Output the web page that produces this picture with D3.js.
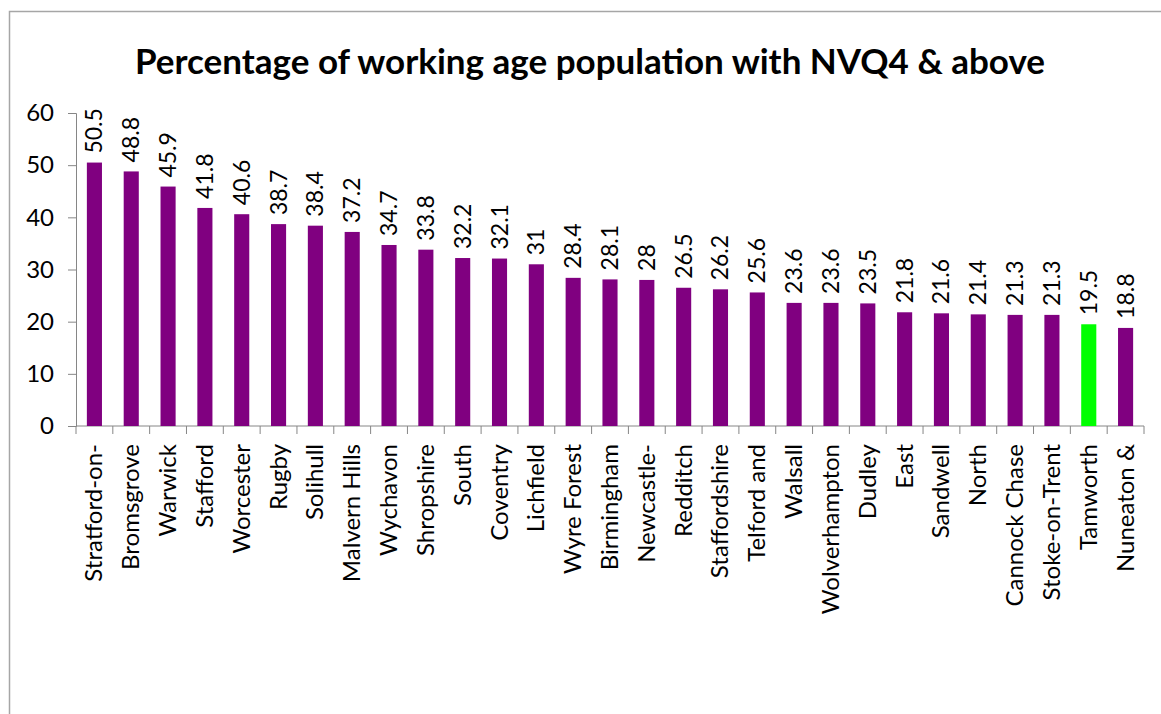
<!DOCTYPE html>
<html>
<head>
<meta charset="utf-8">
<script src="https://cdn.jsdelivr.net/npm/d3@7"></script>
<style>
  body { margin: 0; background: #fff; }
  text { font-family: Lato, "Open Sans", sans-serif; fill: #000; }
</style>
</head>
<body>
<div id="chart-container"></div>
<script>
var categories = ["Stratford-on-", "Bromsgrove", "Warwick", "Stafford", "Worcester", "Rugby",
    "Solihull", "Malvern Hills", "Wychavon", "Shropshire", "South", "Coventry", "Lichfield",
    "Wyre Forest", "Birmingham", "Newcastle-", "Redditch", "Staffordshire", "Telford and",
    "Walsall", "Wolverhampton", "Dudley", "East", "Sandwell", "North", "Cannock Chase",
    "Stoke-on-Trent", "Tamworth", "Nuneaton &"];
var values = [50.5, 48.8, 45.9, 41.8, 40.6, 38.7, 38.4, 37.2, 34.7, 33.8, 32.2, 32.1, 31,
    28.4, 28.1, 28, 26.5, 26.2, 25.6, 23.6, 23.6, 23.5, 21.8, 21.6, 21.4, 21.3, 21.3, 19.5, 18.8];
var highlighted = ["Tamworth"];
var yTicks = [0, 10, 20, 30, 40, 50, 60];
var title = "Percentage of working age population with NVQ4 & above";

var W = 1161, H = 714;
var plotLeft = 76, plotRight = 1144, plotTop = 113, plotBottom = 426;

var svg = d3.select("#chart-container")
    .append("svg")
    .attr("width", W)
    .attr("height", H);

// chart frame
svg.append("path")
    .attr("d", "M9.5," + H + "V11.5H" + W)
    .attr("fill", "none")
    .attr("stroke", "#a6a6a6")
    .attr("stroke-width", 1.5);

svg.append("text")
    .attr("x", 590)
    .attr("y", 74)
    .attr("text-anchor", "middle")
    .style("font-size", "35px")
    .style("font-weight", "bold")
    .text(title);

var x = d3.scaleBand()
    .domain(categories)
    .range([plotLeft, plotRight])
    .paddingInner(0.59)
    .paddingOuter(0.295);

var y = d3.scaleLinear()
    .domain([0, 60])
    .range([plotBottom, plotTop]);

var data = categories.map(function(c, i) { return {cat: c, val: values[i]}; });

// y axis
var yAxis = svg.append("g")
    .attr("transform", "translate(" + plotLeft + ",0)")
    .call(d3.axisLeft(y).tickValues(yTicks).tickSize(8).tickPadding(14));
yAxis.selectAll("line, path").attr("stroke", "#868686");
yAxis.selectAll("text").style("font-size", "24px").style("font-family", "Lato, sans-serif");

// x axis line + boundary ticks
var gap = x.step() * 0.295;
svg.append("line")
    .attr("x1", plotLeft).attr("x2", plotRight)
    .attr("y1", y(0)).attr("y2", y(0))
    .attr("stroke", "#868686");
var bounds = categories.map(function(c) { return x(c) - gap; }).concat([plotRight]);
svg.selectAll("line.xtick")
    .data(bounds)
    .enter().append("line")
    .attr("class", "xtick")
    .attr("x1", function(d) { return d; })
    .attr("x2", function(d) { return d; })
    .attr("y1", y(0))
    .attr("y2", y(0) + 8)
    .attr("stroke", "#868686");

// bars
svg.selectAll("rect.bar")
    .data(data)
    .enter().append("rect")
    .attr("class", "bar")
    .attr("x", function(d) { return x(d.cat); })
    .attr("width", x.bandwidth())
    .attr("y", function(d) { return y(d.val); })
    .attr("height", function(d) { return y(0) - y(d.val); })
    .attr("fill", function(d) { return highlighted.indexOf(d.cat) >= 0 ? "#00ff00" : "#800080"; });

// value labels
svg.selectAll("text.val")
    .data(data)
    .enter().append("text")
    .attr("class", "val")
    .attr("transform", function(d) {
        return "translate(" + (x(d.cat) + x.bandwidth() / 2 + 8) + "," + (y(d.val) - 9) + ") rotate(-90)";
    })
    .style("font-size", "23px")
    .text(function(d) { return d.val; });

// category labels
svg.selectAll("text.cat")
    .data(data)
    .enter().append("text")
    .attr("class", "cat")
    .attr("transform", function(d) {
        return "translate(" + (x(d.cat) + x.bandwidth() / 2 + 8) + "," + (y(0) + 18) + ") rotate(-90)";
    })
    .attr("text-anchor", "end")
    .style("font-size", "24px")
    .text(function(d) { return d.cat; });
</script>
</body>
</html>
